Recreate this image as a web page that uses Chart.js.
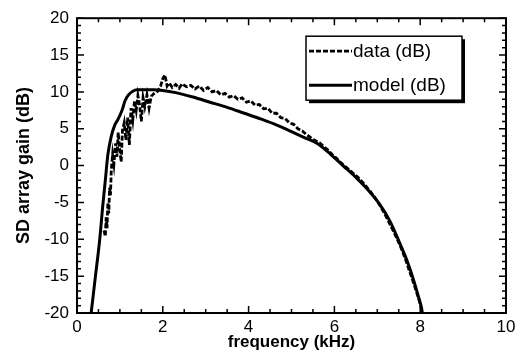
<!DOCTYPE html>
<html>
<head>
<meta charset="utf-8">
<title>SD array gain</title>
<script src="https://cdn.jsdelivr.net/npm/chart.js@4.4.1/dist/chart.umd.min.js"></script>
<style>
  html, body { margin: 0; padding: 0; background: #fff; }
  canvas { display: block; }
</style>
</head>
<body>
<canvas id="gainChart" width="522" height="356"></canvas>
<script>
// model curve (solid line)
const modelFreq = [0.33, 0.43, 0.53, 0.60, 0.66, 0.72, 0.80, 0.88, 0.95, 1.05, 1.12, 1.20, 1.30, 1.40, 1.60, 1.80, 2.00, 2.30, 2.70, 3.10, 3.50, 3.90, 4.30, 4.70, 5.00, 5.30, 5.60, 5.90, 6.20, 6.50, 6.80, 7.05, 7.30, 7.50, 7.70, 7.85, 7.97, 8.03, 8.05];
const modelGain = [-20, -15, -10, -5.5, -2, 1.5, 4, 5.5, 6.2, 7.5, 8.8, 9.6, 10.1, 10.3, 10.3, 10.3, 10.2, 9.9, 9.3, 8.6, 7.9, 7.1, 6.3, 5.4, 4.6, 3.8, 3.0, 1.6, 0.0, -1.6, -3.4, -5.2, -7.6, -10.2, -13.0, -15.6, -18.0, -19.3, -20];

// measured data (dashed line)
const dataFreq = [0.63, 0.66, 0.68, 0.70, 0.72, 0.74, 0.76, 0.78, 0.80, 0.83, 0.86, 0.90, 0.93, 0.96, 0.99, 1.03, 1.06, 1.10, 1.14, 1.18, 1.22, 1.26, 1.30, 1.34, 1.38, 1.42, 1.46, 1.50, 1.54, 1.58, 1.63, 1.68, 1.73, 1.80, 1.88, 1.95, 2.00, 2.05, 2.10, 2.15, 2.22, 2.30, 2.38, 2.45, 2.55, 2.65, 2.75, 2.85, 2.95, 3.05, 3.15, 3.25, 3.35, 3.45, 3.55, 3.65, 3.75, 3.85, 3.95, 4.05, 4.15, 4.25, 4.35, 4.45, 4.55, 4.65, 4.75, 4.85, 4.95, 5.05, 5.15, 5.25, 5.35, 5.45, 5.55, 5.65, 5.75, 5.85, 5.95, 6.05, 6.15, 6.25, 6.35, 6.45, 6.55, 6.65, 6.75, 6.85, 6.95, 7.05, 7.15, 7.25, 7.35, 7.45, 7.55, 7.65, 7.75, 7.85, 7.95, 8.02, 8.05];
const dataGain = [-8.8, -9.6, -7, -8.5, -5, -6.5, -3, -4, -0.5, 1.5, 0.2, 3, 1.2, 4.5, 2.5, 0.5, 4.8, 5.8, 3.5, 6.5, 2.8, 7.8, 6.2, 8.8, 7.5, 9.5, 8.2, 6.0, 9.2, 8.0, 9.6, 7.8, 9.4, 9.8, 10.1, 10.8, 11.8, 12.3, 10.8, 11.2, 10.6, 11.0, 10.5, 11.1, 10.7, 10.9, 10.4, 10.8, 10.2, 10.6, 10.0, 10.2, 9.6, 9.8, 9.3, 9.5, 9.0, 9.2, 8.6, 8.8, 8.2, 8.3, 7.7, 7.8, 7.1, 7.1, 6.5, 6.4, 5.8, 5.6, 5.0, 4.7, 4.2, 3.8, 3.4, 3.1, 2.6, 2.1, 1.5, 1.0, 0.4, -0.1, -0.6, -1.1, -1.6, -2.2, -2.9, -3.6, -4.4, -5.3, -6.3, -7.4, -8.6, -9.8, -11.1, -12.6, -14.3, -16, -17.8, -19.2, -20];

const xTicks = [0, 2, 4, 6, 8, 10];
const yTicks = [-20, -15, -10, -5, 0, 5, 10, 15, 20];
const xMinorStep = 0.5;
const yMinorStep = 1;

// 在圖內畫朝內的刻度與外框
const frameTicks = {
  id: 'frameTicks',
  afterDatasetsDraw(chart) {
    const ctx = chart.ctx;
    const a = chart.chartArea;
    const xs = chart.scales.x, ys = chart.scales.y;
    ctx.save();
    ctx.strokeStyle = '#000';
    ctx.lineWidth = 1.5;
    ctx.beginPath();
    for (let v = xs.min; v <= xs.max + 1e-9; v += xMinorStep) {
      const px = xs.getPixelForValue(v);
      const len = xTicks.includes(Math.round(v * 100) / 100) ? 7 : 4;
      ctx.moveTo(px, a.bottom); ctx.lineTo(px, a.bottom - len);
      ctx.moveTo(px, a.top); ctx.lineTo(px, a.top + len);
    }
    for (let v = ys.min; v <= ys.max + 1e-9; v += yMinorStep) {
      const py = ys.getPixelForValue(v);
      const len = yTicks.includes(Math.round(v)) ? 7 : 4;
      ctx.moveTo(a.left, py); ctx.lineTo(a.left + len, py);
      ctx.moveTo(a.right, py); ctx.lineTo(a.right - len, py);
    }
    ctx.stroke();
    ctx.lineWidth = 2;
    ctx.strokeRect(a.left, a.top, a.right - a.left, a.bottom - a.top);
    ctx.restore();
  }
};

// 圖內右上角的圖例方框（帶陰影）
const boxLegend = {
  id: 'boxLegend',
  afterDraw(chart) {
    const ctx = chart.ctx;
    const a = chart.chartArea;
    const bx = a.right - 200, by = a.top + 18, bw = 156, bh = 64;
    ctx.save();
    ctx.fillStyle = '#000';
    ctx.fillRect(bx + 3, by + 3, bw, bh);
    ctx.fillStyle = '#fff';
    ctx.fillRect(bx, by, bw, bh);
    ctx.strokeStyle = '#000';
    ctx.lineWidth = 1.5;
    ctx.strokeRect(bx, by, bw, bh);
    ctx.font = '19px "Liberation Sans", Arial, sans-serif';
    ctx.textBaseline = 'middle';
    ctx.fillStyle = '#000';
    chart.data.datasets.forEach((ds, i) => {
      const ly = by + 15 + i * 34;
      ctx.beginPath();
      ctx.lineWidth = ds.borderWidth;
      ctx.setLineDash(ds.borderDash || []);
      ctx.moveTo(bx + 3, ly);
      ctx.lineTo(bx + 46, ly);
      ctx.stroke();
      ctx.setLineDash([]);
      ctx.fillText(ds.label, bx + 47, ly + 1);
    });
    ctx.restore();
  }
};

const tickFont = { family: '"Liberation Sans", Arial, sans-serif', size: 17 };
const xTitleFont = { family: '"Liberation Sans", Arial, sans-serif', size: 17, weight: 'bold' };
const yTitleFont = { family: '"Liberation Sans", Arial, sans-serif', size: 18, weight: 'bold' };

new Chart(document.getElementById('gainChart'), {
  type: 'line',
  data: {
    datasets: [
      {
        label: 'data (dB)',
        data: dataFreq.map((f, i) => ({ x: f, y: dataGain[i] })),
        borderColor: '#000',
        borderWidth: 2.8,
        borderDash: [5, 2],
        pointRadius: 0,
        tension: 0
      },
      {
        label: 'model (dB)',
        data: modelFreq.map((f, i) => ({ x: f, y: modelGain[i] })),
        borderColor: '#000',
        borderWidth: 3,
        pointRadius: 0,
        cubicInterpolationMode: 'monotone'
      }
    ]
  },
  options: {
    responsive: false,
    animation: false,
    devicePixelRatio: 1,
    layout: { padding: { top: 15, right: 16, left: 0, bottom: 0 } },
    plugins: { legend: { display: false }, tooltip: { enabled: false } },
    scales: {
      x: {
        type: 'linear',
        min: 0, max: 10,
        afterBuildTicks: s => { s.ticks = xTicks.map(v => ({ value: v })); },
        afterFit: s => { s.height = 43; },
        grid: { drawOnChartArea: false, drawTicks: false },
        border: { display: false },
        ticks: { color: '#000', font: tickFont, padding: 4, maxRotation: 0 },
        title: { display: true, text: 'frequency (kHz)', color: '#000', font: xTitleFont, padding: { top: 0, bottom: 3 } }
      },
      y: {
        type: 'linear',
        min: -20, max: 20,
        afterBuildTicks: s => { s.ticks = yTicks.map(v => ({ value: v })); },
        afterFit: s => { s.width = 77; },
        grid: { drawOnChartArea: false, drawTicks: false },
        border: { display: false },
        ticks: { color: '#000', font: tickFont, padding: 8 },
        title: { display: true, text: 'SD array gain (dB)', color: '#000', font: yTitleFont, padding: { top: 13, bottom: 0 } }
      }
    }
  },
  plugins: [frameTicks, boxLegend]
});
</script>
</body>
</html>
